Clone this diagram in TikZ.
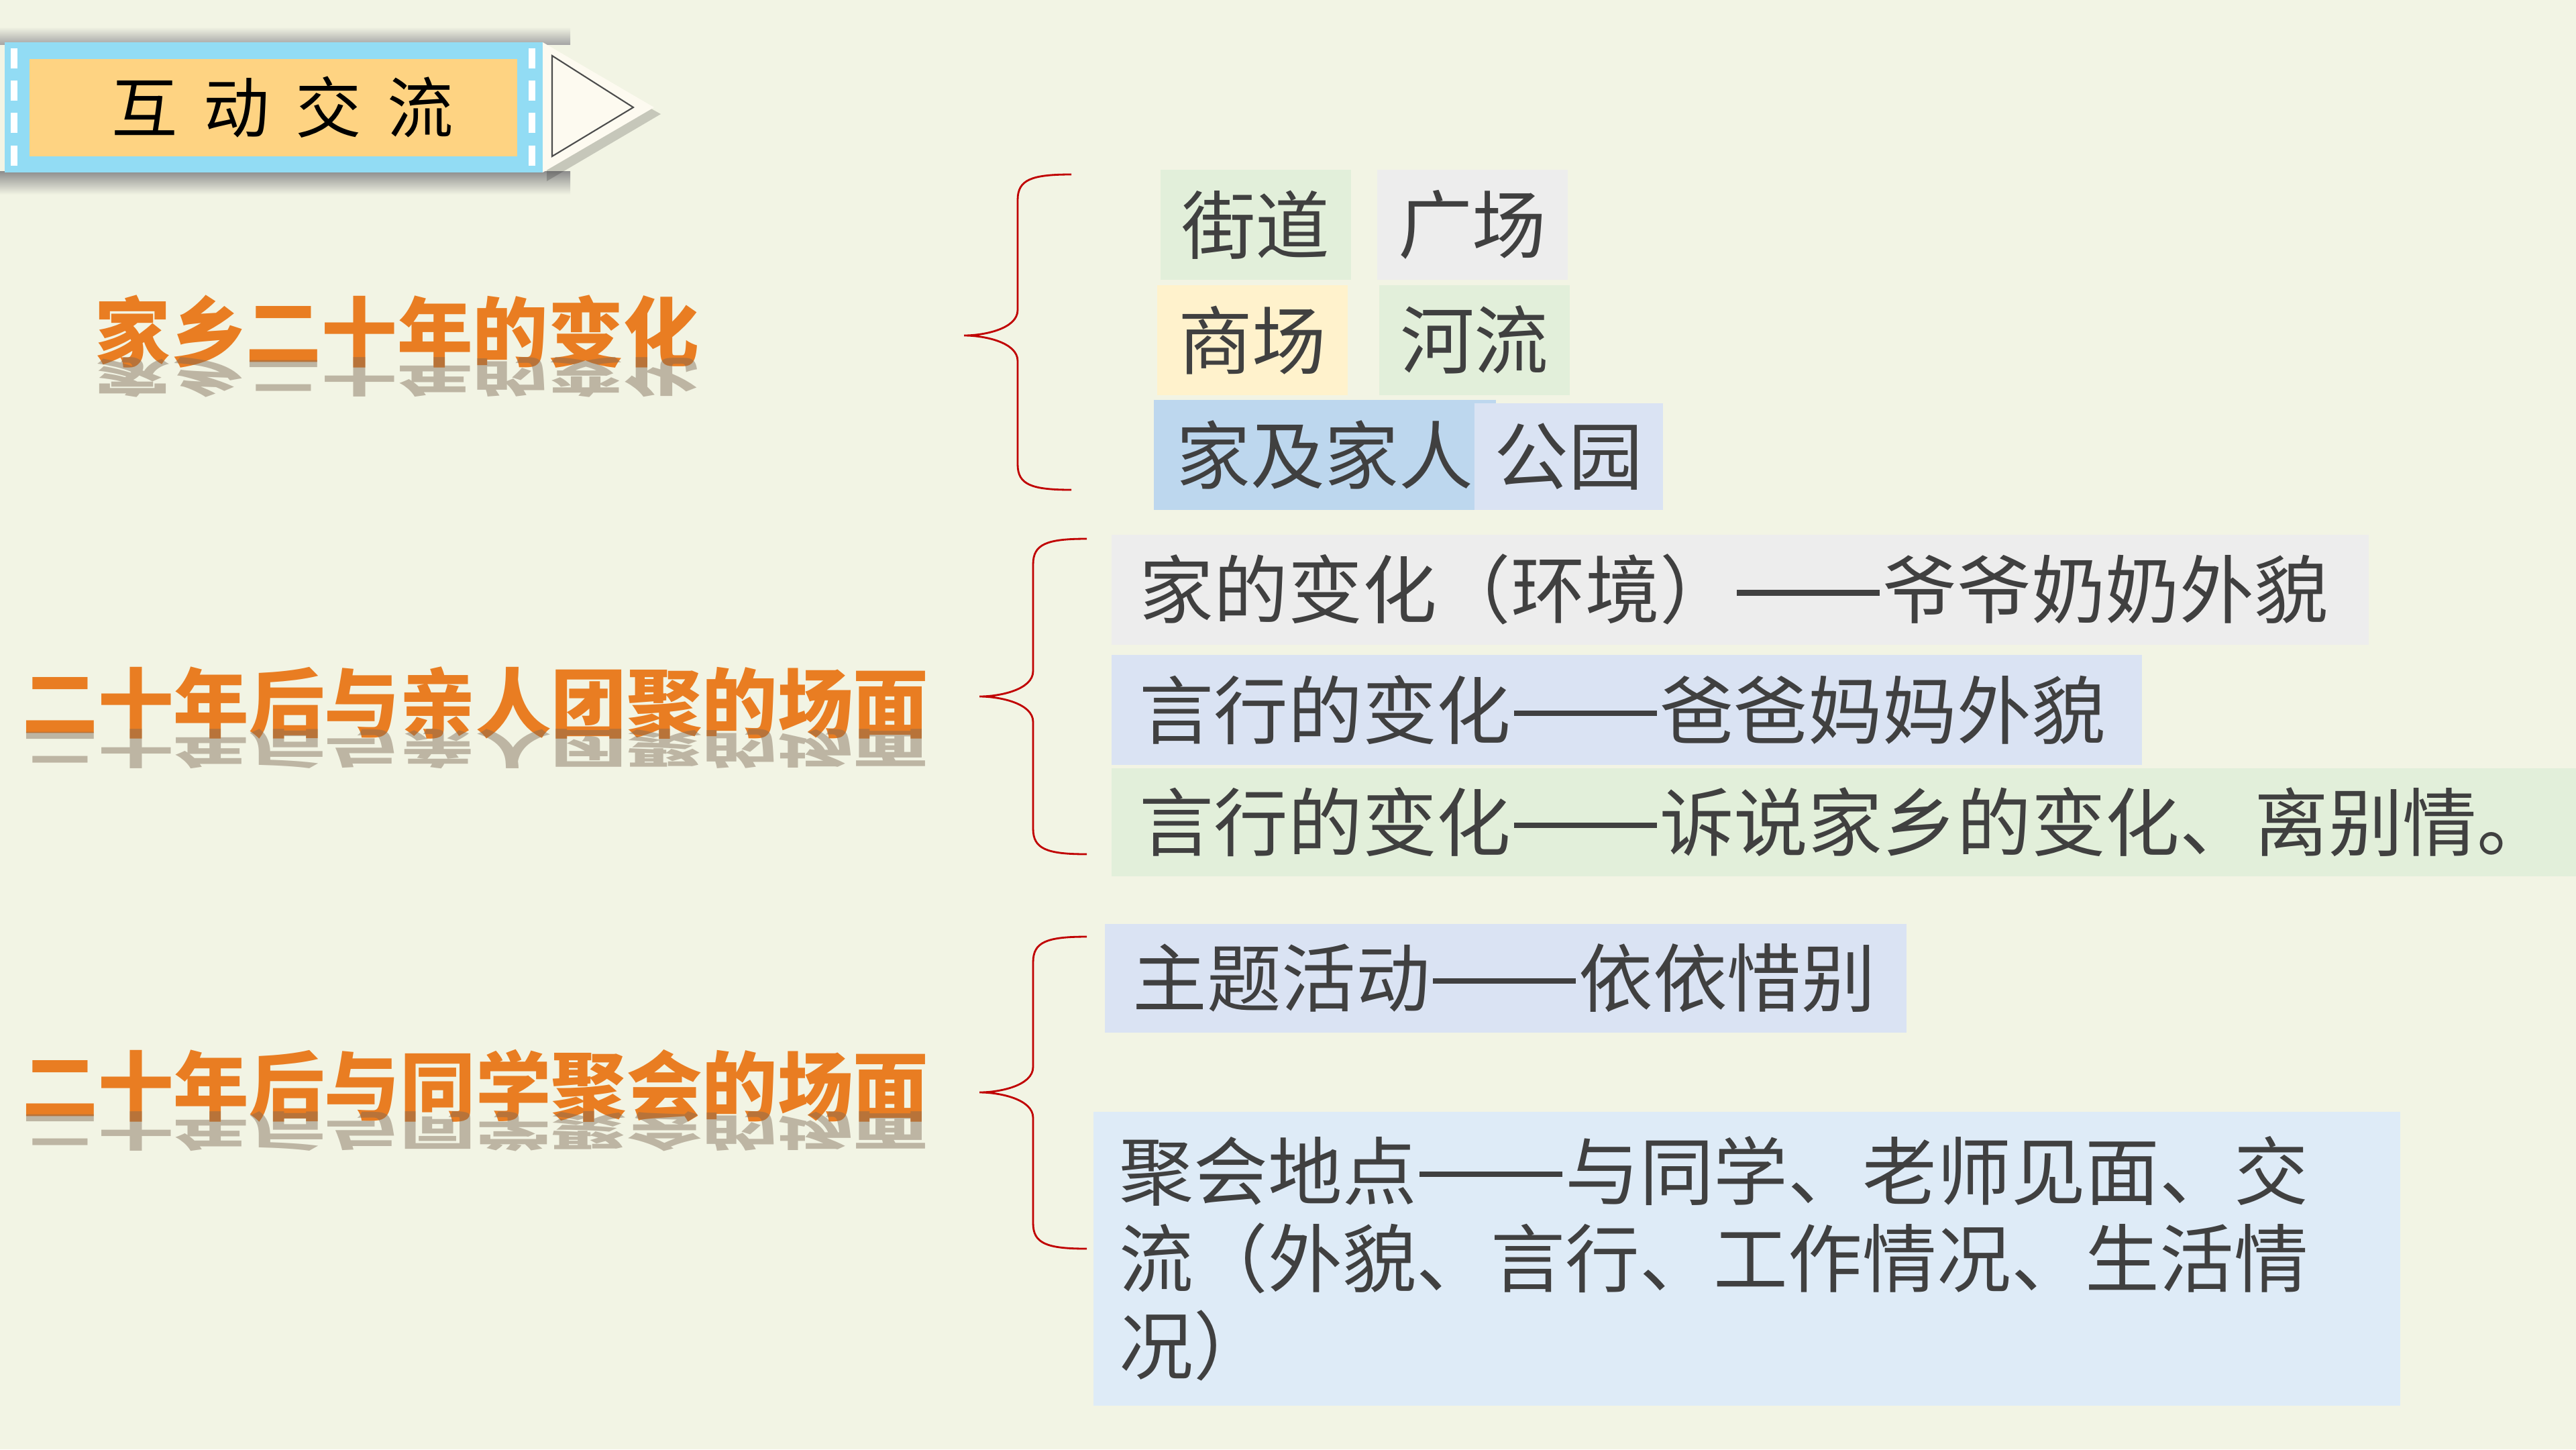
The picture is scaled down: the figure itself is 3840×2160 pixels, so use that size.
\documentclass[tikz,border=0pt]{standalone}
\usepackage{fontspec}
\usepackage{graphicx}
\usepackage{tikz}
\usetikzlibrary{positioning}

\newfontfamily\cjk{Noto Sans CJK SC}
\newcommand{\boxfont}{\cjk\fontsize{31.5pt}{37pt}\selectfont}
\newcommand{\headfont}{\cjk\bfseries\fontsize{32pt}{37pt}\selectfont}
\newcommand{\titlefont}{\cjk\fontsize{28pt}{32pt}\selectfont}
\newcommand{\longdash}{\makebox[2em]{\rule[0.3em]{1.92em}{0.075em}}}

\definecolor{bgcream}{RGB}{242,244,228}
\definecolor{headorange}{RGB}{233,125,34}
\definecolor{reflgray}{RGB}{125,105,85}
\definecolor{txtgray}{RGB}{64,64,64}
\definecolor{bracered}{RGB}{192,0,0}
\definecolor{cellgreen}{RGB}{226,239,218}
\definecolor{cellgray}{RGB}{237,237,237}
\definecolor{cellyellow}{RGB}{255,242,204}
\definecolor{cellblue}{RGB}{189,215,238}
\definecolor{cellpale}{RGB}{218,227,243}
\definecolor{cellsky}{RGB}{222,235,247}
\definecolor{bannerblue}{RGB}{146,220,244}
\definecolor{bannerorange}{RGB}{254,211,130}
\definecolor{arrowwhite}{RGB}{253,250,240}

% red curly brace: top, middle, bottom, tip x
\newcommand{\redbrace}[4]{%
  \draw[brace] ({#4+160},#1) .. controls ({#4+100},#1) and ({#4+80},{#1+8}) .. ({#4+80},{#1+38})
    -- ({#4+80},{#2-38}) .. controls ({#4+80},{#2-10}) and ({#4+30},#2) .. (#4,#2)
    .. controls ({#4+30},#2) and ({#4+80},{#2+10}) .. ({#4+80},{#2+38})
    -- ({#4+80},{#3-38}) .. controls ({#4+80},{#3-8}) and ({#4+100},#3) .. ({#4+160},#3);}

\begin{document}
\begin{tikzpicture}[x=0.01cm, y=-0.01cm]
    \tikzstyle{cell} = [rectangle, inner sep=0pt, anchor=north west, text=txtgray, font=\boxfont, minimum width=2.84cm, minimum height=1.64cm]
    \tikzstyle{wide} = [cell, align=left, inner xsep=0.42cm]
    \tikzstyle{heading} = [text=headorange, font=\headfont]
    \tikzstyle{mirror} = [text=reflgray, text opacity=0.45, font=\headfont]
    \tikzstyle{brace} = [draw=bracered, line width=0.8pt]

    \fill[bgcream] (0,0) rectangle (3840,2160);
    \useasboundingbox (0,0) rectangle (3840,2160);

    % title banner
    \shade[top color=bgcream, bottom color=black!35] (0,40) rectangle (850,66);
    \shade[top color=black!45, bottom color=bgcream] (0,255) rectangle (850,290);
    \fill[bannerblue] (7,63) rectangle (809,257);
    \fill[bannerorange] (44,88) rectangle (771,233);
    \foreach \dy in {72,120,168,217} {
        \fill[white] (16,\dy) rectangle (26,\dy+30);
        \fill[white] (788,\dy) rectangle (798,\dy+30);
    }
    \fill[black, opacity=0.18] (815,75) -- (815,270) -- (985,170) -- cycle;
    \fill[arrowwhite] (809,63) -- (809,257) -- (975,160) -- cycle;
    \draw[black!70, line width=0.6pt] (823,83) -- (823,233) -- (944,160) -- cycle;
    \node (title) [font=\titlefont] at (421,160) {互\hspace{11pt}动\hspace{11pt}交\hspace{11pt}流};

    % headings
    \node (hometown) [heading] at (592,494) {家乡二十年的变化};
    \node (hometownrefl) [mirror] at (592,562) {\scalebox{1}[-0.55]{家乡二十年的变化}};
    \node (family) [heading] at (709,1048) {二十年后与亲人团聚的场面};
    \node (familyrefl) [mirror] at (709,1116) {\scalebox{1}[-0.55]{二十年后与亲人团聚的场面}};
    \node (classmates) [heading] at (709,1618) {二十年后与同学聚会的场面};
    \node (classmatesrefl) [mirror] at (709,1686) {\scalebox{1}[-0.55]{二十年后与同学聚会的场面}};

    % braces
    \redbrace{260}{500}{730}{1437}
    \redbrace{803}{1038}{1273}{1460}
    \redbrace{1396}{1628}{1861}{1460}

    % first group
    \node (street) [cell, fill=cellgreen] at (1729,252) {街道};
    \node (square) [cell, fill=cellgray] at (2052,252) {广场};
    \node (mall) [cell, fill=cellyellow] at (1724,424) {商场};
    \node (river) [cell, fill=cellgreen] at (2055,424) {河流};
    \node (home) [cell, fill=cellblue, minimum width=5.1cm] at (1719,595) {家及家人\hspace{0.3cm}};
    \node (park) [cell, fill=cellpale, minimum width=2.81cm, minimum height=1.59cm] at (2197,600) {公园};

    % second group
    \node (homechange) [wide, fill=cellgray, text width=17.89cm] at (1656,796) {家的变化（环境）\longdash 爷爷奶奶外貌};
    \node (grandparents) [wide, fill=cellpale, text width=14.51cm] at (1656,975) {言行的变化\longdash 爸爸妈妈外貌};
    \node (parents) [wide, fill=cellgreen, minimum height=1.61cm, text width=21.5cm] at (1656,1144) {言行的变化\longdash 诉说家乡的变化、离别情。};

    % third group
    \node (theme) [wide, fill=cellpale, minimum height=1.62cm, text width=11.11cm] at (1646,1376) {主题活动\longdash 依依惜别};
    \node (meeting) [wide, fill=cellsky, inner xsep=0.39cm, minimum height=4.38cm, text width=18.69cm] at (1629,1656) {聚会地点\longdash 与同学、老师见面、交\\流（外貌、言行、工作情况、生活情\\况）};
\end{tikzpicture}
\end{document}
